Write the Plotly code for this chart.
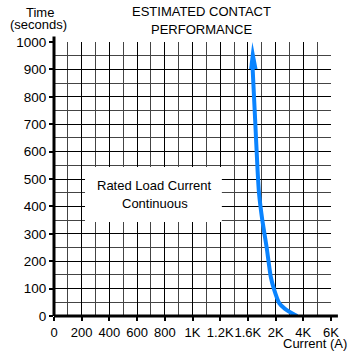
import numpy as np
import plotly.graph_objects as go

# Tick labels of the (non-linear) current axis, and their values in amps
tick_currents = [0, 200, 400, 600, 800, 1000, 1200, 1600, 2000, 4000, 6000]
tick_labels = ["0", "200", "400", "600", "800", "1K", "1.2K", "1.6K", "2K", "4K", "6K"]

# Estimated contact performance curve: current (A) vs time (s)
curve_current = [3560, 3280, 2680, 2260, 1980, 1928, 1872, 1808, 1760, 1740, 1704, 1668, 1664]
curve_time = [0, 7, 26, 47, 95, 146, 248, 350, 450, 530, 719, 905, 1000]

tick_pos = list(range(len(tick_currents)))
xpos = np.interp(curve_current, tick_currents, tick_pos)

BLUE = "#0A84FF"
FONT = "Liberation Sans, Arial, sans-serif"

fig = go.Figure()
fig.add_trace(go.Scatter(
    x=xpos[:-1], y=curve_time[:-1], mode="lines",
    line=dict(color=BLUE, width=4, shape="spline", smoothing=0.5),
    hoverinfo="skip", showlegend=False,
))

shapes = [
    # white box behind the text
    dict(type="rect", xref="x", yref="y", x0=1.12, x1=6.06, y0=343, y1=544,
         fillcolor="white", line=dict(width=0), layer="above"),
    # arrow head at the tip of the curve
    dict(type="path", xref="x", yref="y", xsizemode="pixel", ysizemode="pixel",
         xanchor=float(xpos[-1]), yanchor=curve_time[-1],
         path="M0,0 L-3.2,-27 L5.2,-27 Z", fillcolor=BLUE, line=dict(width=0)),
    # thick axis lines
    dict(type="line", xref="paper", yref="paper", x0=0, x1=0, y0=0, y1=1.02,
         line=dict(color="black", width=3)),
    dict(type="line", xref="paper", yref="paper", x0=0, x1=1.025, y0=0, y1=0,
         line=dict(color="black", width=3)),
]

def txt(text, x, y, xref="paper", yref="paper"):
    return dict(text=text, xref=xref, yref=yref, x=x, y=y, xanchor="center",
                yanchor="middle", showarrow=False,
                font=dict(size=13, color="black", family=FONT))

annotations = [
    txt("ESTIMATED CONTACT", 0.534, 1.1095),
    txt("PERFORMANCE", 0.534, 1.047),
    txt("Time", -0.0505, 1.1077),
    txt("(seconds)", -0.056, 1.0639),
    txt("Current (A)", 0.944, -0.102),
    txt("Rated Load Current", 3.63, 478, "x", "y"),
    txt("Continuous", 3.63, 412, "x", "y"),
]

fig.update_layout(
    width=360, height=360,
    margin=dict(l=54, r=29, t=42, b=44, autoexpand=False),
    paper_bgcolor="white", plot_bgcolor="white",
    font=dict(family=FONT, size=13, color="black"),
    shapes=shapes, annotations=annotations,
    xaxis=dict(
        range=[0, 10], tickmode="array", tickvals=tick_pos, ticktext=tick_labels,
        tickangle=0,
        showgrid=True, gridcolor="black", gridwidth=1.2,
        minor=dict(tickmode="array", tickvals=[p + 0.5 for p in tick_pos[:-1]],
                   showgrid=True, gridcolor="#444", gridwidth=1, ticks=""),
        ticks="outside", ticklen=4, tickwidth=1.5, tickcolor="black",
        zeroline=False, showline=False, fixedrange=True,
        tickfont=dict(size=13),
    ),
    yaxis=dict(
        range=[0, 1000], tickmode="linear", tick0=0, dtick=100,
        showgrid=True, gridcolor="black", gridwidth=1.2,
        minor=dict(dtick=50, showgrid=True, gridcolor="#444", gridwidth=1, ticks=""),
        ticks="outside", ticklen=4, tickwidth=1.5, tickcolor="black",
        zeroline=False, showline=False, fixedrange=True,
        tickfont=dict(size=13.5),
    ),
)

fig.write_html("out.html", config={"displayModeBar": False},
               post_script="document.body.style.margin='0';")
